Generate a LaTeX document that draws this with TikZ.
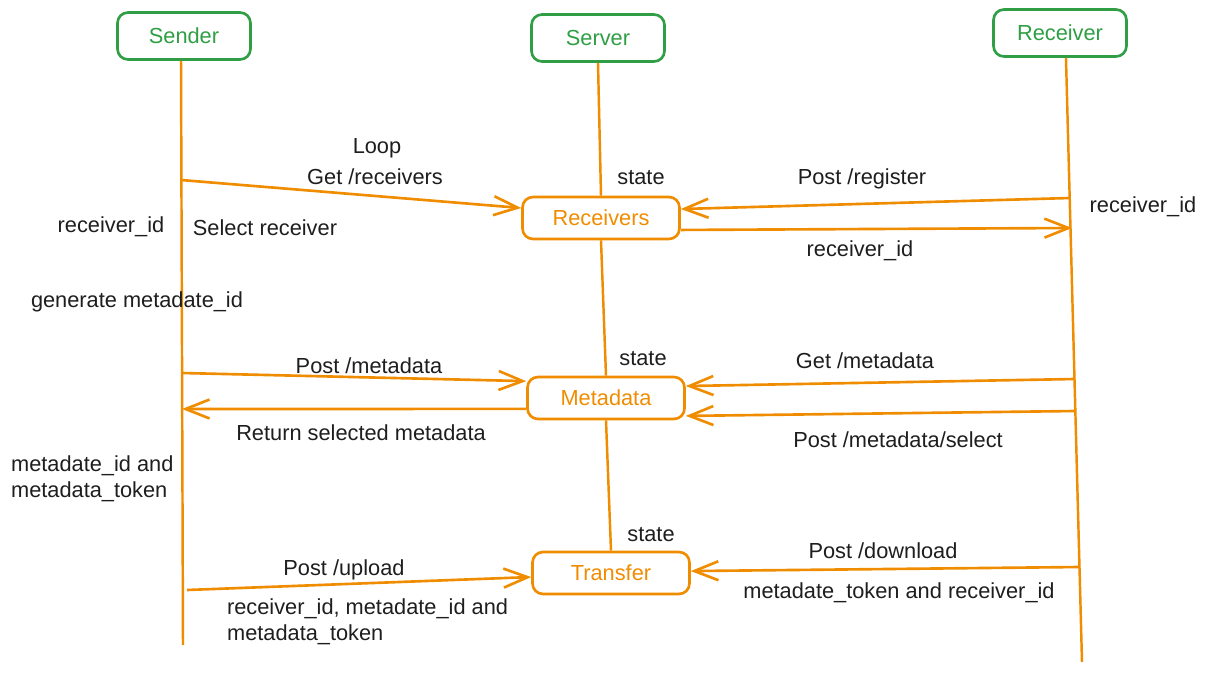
\documentclass[tikz,border=0pt]{standalone}
\usepackage{fontspec}
\setmainfont{Liberation Sans}
\usetikzlibrary{arrows.meta}
\definecolor{actgreen}{HTML}{2F9E44}
\definecolor{flow}{HTML}{F08C00}
\definecolor{ink}{HTML}{1E1E1E}

\begin{document}
\begin{tikzpicture}[x=0.02cm, y=-0.02cm,
    every node/.style={font=\fontsize{12.4}{14.7}\selectfont},
    actor/.style={draw=actgreen, line width=1.5pt, rounded corners=6pt,
                  text=actgreen, minimum width=2.66cm, minimum height=0.94cm},
    store/.style={draw=flow, line width=1.5pt, rounded corners=6pt,
                  text=flow, minimum width=3.14cm, minimum height=0.84cm},
    life/.style={draw=flow, line width=1.4pt},
    msg/.style={draw=flow, line width=1.5pt,
                -{Straight Barb[length=4.8mm, width=3.8mm]}},
    lbl/.style={text=ink, inner sep=1pt}]
    \useasboundingbox (0,0) rectangle (1205,673);

    % actors and server stores
    \node[actor] (snd) at (184,36) {Sender};
    \node[actor] (srv) at (598,38) {Server};
    \node[actor] (rcv) at (1060,33) {Receiver};
    \node[store] (rcvs) at (601,218) {Receivers};
    \node[store] (meta) at (606,398) {Metadata};
    \node[store] (xfer) at (611,573) {Transfer};

    % lifelines
    \coordinate (sndend) at (183,645);
    \coordinate (rcvend) at (1082,662);
    \draw[life] ([xshift=-1.7pt]snd.south) -- (sndend);
    \draw[life] ([xshift=3.4pt]rcv.south) -- (rcvend);
    \draw[life] (srv.south) -- (rcvs.north);
    \draw[life] (rcvs.south) -- (meta.north);
    \draw[life] (meta.south) -- (xfer.north);

    % points on the lifelines
    \coordinate (s1) at (181,180);
    \coordinate (s2) at (182,373);
    \coordinate (s3) at (182,409);
    \coordinate (s4) at (187,590);
    \coordinate (r1) at (1070,198);
    \coordinate (r2) at (1072,228);
    \coordinate (r3) at (1075,379);
    \coordinate (r4) at (1075,411);
    \coordinate (r5) at (1080,567);

    % messages
    \draw[msg] (s1) -- ([yshift=5.7pt]rcvs.west);
    \draw[msg] (r1) -- ([yshift=5.1pt]rcvs.east);
    \draw[msg] ([yshift=-6.8pt]rcvs.east) -- (r2);
    \draw[msg] (s2) -- ([yshift=9.6pt]meta.west);
    \draw[msg] ([yshift=-6.2pt]meta.west) -- (s3);
    \draw[msg] (r3) -- ([yshift=6.8pt]meta.east);
    \draw[msg] (r4) -- ([yshift=-10.2pt]meta.east);
    \draw[msg] (s4) -- ([yshift=-2.3pt]xfer.west);
    \draw[msg] (r5) -- ([yshift=1.1pt]xfer.east);

    % labels
    \node[lbl] (loop) at (377,148) {Loop};
    \node[lbl] (getrcv) at (375,177) {Get /receivers};
    \node[lbl] (postreg) at (862,179) {Post /register};
    \node[lbl] (rid1) at (860,251) {receiver\_id};
    \node[lbl] (rid2) at (1143,207) {receiver\_id};
    \node[lbl] (rid3) at (111,227) {receiver\_id};
    \node[lbl] (selrcv) at (265,228) {Select receiver};
    \node[lbl] (genid) at (137,302) {generate metadate\_id};
    \node[lbl] (st1) at (641,178) {state};
    \node[lbl] (st2) at (643,359) {state};
    \node[lbl] (st3) at (651,535) {state};
    \node[lbl] (postmeta) at (369,366) {Post /metadata};
    \node[lbl] (retmeta) at (361,433) {Return selected metadata};
    \node[lbl] (getmeta) at (865,361) {Get /metadata};
    \node[lbl] (selmeta) at (898,440) {Post /metadata/select};
    \node[lbl, anchor=west, align=left] (idtok) at (9,479)
        {metadate\_id and\\metadata\_token};
    \node[lbl] (postup) at (344,570) {Post /upload};
    \node[lbl, anchor=west, align=left] (upargs) at (225,622)
        {receiver\_id, metadate\_id and\\metadata\_token};
    \node[lbl] (postdown) at (883,551) {Post /download};
    \node[lbl] (downargs) at (899,593) {metadate\_token and receiver\_id};
\end{tikzpicture}
\end{document}
